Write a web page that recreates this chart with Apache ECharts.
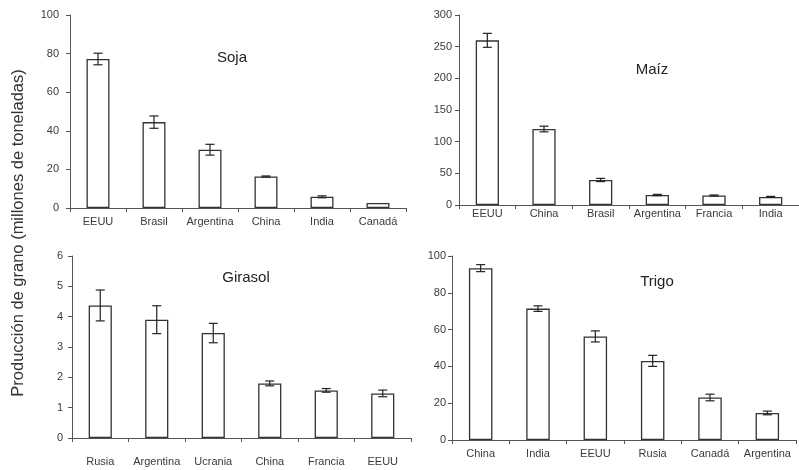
<!DOCTYPE html>
<html><head><meta charset="utf-8">
<script src="https://cdn.jsdelivr.net/npm/echarts@6/dist/echarts.min.js"></script>
<style>html,body{margin:0;padding:0;background:#fff}#c{width:799px;height:470px}</style>
</head><body><div id="c"></div>
<script>
// ---- data ----
const sojaCats = ['EEUU','Brasil','Argentina','China','India','Canadá'];
const sojaVals = [77.2, 44.5, 30.2, 16.3, 5.8, 2.6];
const sojaErr  = [3.0, 3.2, 2.8, 0.3, 0.5, 0];

const maizCats = ['EEUU','China','Brasil','Argentina','Francia','India'];
const maizVals = [260, 120, 39.5, 15.8, 15.0, 12.8];
const maizErr  = [11, 4.5, 2.5, 1.0, 0.8, 0.8];

const girasolCats = ['Rusia','Argentina','Ucrania','China','Francia','EEUU'];
const girasolVals = [4.37, 3.90, 3.46, 1.80, 1.57, 1.47];
const girasolErr  = [0.51, 0.46, 0.32, 0.08, 0.06, 0.11];

const trigoCats = ['China','India','EEUU','Rusia','Canadá','Argentina'];
const trigoVals = [93.4, 71.4, 56.3, 43.0, 23.1, 14.7];
const trigoErr  = [1.9, 1.5, 3.0, 3.0, 1.8, 1.0];

const yMax = [100, 300, 6, 100];
const yInt = [20, 50, 1, 20];
const panelTitles = ['Soja','Maíz','Girasol','Trigo'];

// ---- chart ----
const FONT = '"Liberation Sans", Arial, sans-serif';
const chart = echarts.init(document.getElementById('c'), null, {renderer:'canvas'});
const panels = [
  {cats: sojaCats, vals: sojaVals, err: sojaErr},
  {cats: maizCats, vals: maizVals, err: maizErr},
  {cats: girasolCats, vals: girasolVals, err: girasolErr},
  {cats: trigoCats, vals: trigoVals, err: trigoErr}
];
const grids = [
  {left: 70, top: 15, width: 336, height: 193},
  {left: 459, top: 15, width: 342, height: 190},
  {left: 72, top: 256, width: 339, height: 182},
  {left: 452, top: 256, width: 344, height: 184}
];
const labelMargins = [8, 3, 18, 8];
const yLabelMargins = [11, 7, 9, 6];
const axisColor = '#555';

const xAxes = [], yAxes = [], series = [];
panels.forEach((p, i) => {
  xAxes.push({
    type: 'category', gridIndex: i, data: p.cats, boundaryGap: true,
    axisLine: {lineStyle: {color: axisColor, width: 1}},
    axisTick: {show: true, length: 4, lineStyle: {color: axisColor}},
    axisLabel: {color: '#3a3a3a', fontSize: 11, fontFamily: FONT, margin: labelMargins[i], interval: 0}
  });
  yAxes.push({
    type: 'value', gridIndex: i, min: 0, max: yMax[i], interval: yInt[i],
    axisLine: {show: true, lineStyle: {color: axisColor, width: 1}},
    axisTick: {show: true, length: 4, lineStyle: {color: axisColor}},
    axisLabel: {color: '#3a3a3a', fontSize: 11, fontFamily: FONT, margin: yLabelMargins[i]},
    splitLine: {show: false}
  });
  series.push({
    type: 'bar', xAxisIndex: i, yAxisIndex: i, data: p.vals, barWidth: '41%',
    itemStyle: {color: '#fff', borderColor: '#333', borderWidth: 1.3},
    silent: true, animation: false
  });
  series.push({
    type: 'custom', xAxisIndex: i, yAxisIndex: i,
    data: p.vals.map((v, k) => [k, v - p.err[k], v + p.err[k]]),
    renderItem: function (params, api) {
      const x = api.value(0), lo = api.value(1), hi = api.value(2);
      if (hi - lo <= 0) return null;
      const a = api.coord([x, hi]), b = api.coord([x, lo]);
      const h = 4.5;
      const st = {stroke: '#222', lineWidth: 1.2};
      return {type: 'group', children: [
        {type: 'line', shape: {x1: a[0], y1: a[1], x2: b[0], y2: b[1]}, style: st},
        {type: 'line', shape: {x1: a[0]-h, y1: a[1], x2: a[0]+h, y2: a[1]}, style: st},
        {type: 'line', shape: {x1: b[0]-h, y1: b[1], x2: b[0]+h, y2: b[1]}, style: st}
      ]};
    },
    z: 5, silent: true, animation: false
  });
});

const titlePos = [[232, 58], [652, 70], [246, 278], [657, 282]];
const graphics = panelTitles.map((t, i) => ({
  type: 'text', x: titlePos[i][0], y: titlePos[i][1],
  style: {text: t, fill: '#222', font: '15px ' + FONT, align: 'center', verticalAlign: 'middle'}
}));
graphics.push({
  type: 'text', x: 18, y: 233, rotation: Math.PI / 2,
  style: {text: 'Producción de grano (millones de toneladas)', fill: '#333', font: '16.5px ' + FONT, align: 'center', verticalAlign: 'middle'}
});

chart.setOption({
  animation: false,
  backgroundColor: '#fff',
  grid: grids,
  xAxis: xAxes,
  yAxis: yAxes,
  series: series,
  graphic: graphics
});
</script>
</body></html>
